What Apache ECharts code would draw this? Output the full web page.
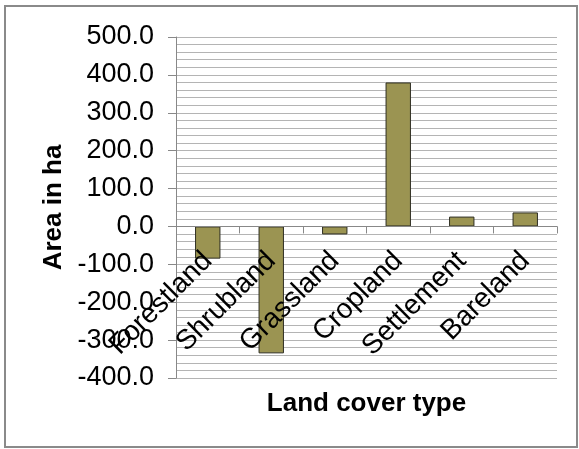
<!DOCTYPE html>
<html>
<head>
<meta charset="utf-8">
<script src="https://cdn.jsdelivr.net/npm/echarts@6/dist/echarts.min.js"></script>
<style>
  html, body { margin: 0; padding: 0; background: #fff; }
  #chart { width: 579px; height: 449px; }
</style>
</head>
<body>
<div id="chart"></div>
<script>
// land cover change, area in ha
const categories = ["Forestland", "Shrubland", "Grassland", "Cropland", "Settlement", "Bareland"];
const areaChange = [-85, -335, -21, 380, 26, 37];

const yMin = -400;
const yMax = 500;
const yStep = 100;

const myChart = echarts.init(document.getElementById("chart"));

const font = "'Liberation Sans', Arial, sans-serif";

// grid box in px
const gridTop = 37;
const gridBottom = 71;
const plotHeight = 449 - gridTop - gridBottom;
// category axis sits on the zero line (shift it up from the bottom edge)
const zeroShift = -plotHeight * (0 - yMin) / (yMax - yMin);

let option = {
  animation: false,
  backgroundColor: "#fff",
  graphic: [
    {
      type: "rect",
      shape: { x: 5, y: 6, width: 572, height: 441 },
      style: { fill: "none", stroke: "#8a8a8a", lineWidth: 2 },
      silent: true,
    },
  ],
  grid: {
    left: 176,
    right: 22,
    top: gridTop,
    bottom: gridBottom,
    outerBoundsMode: "none",
  },
  xAxis: {
    type: "category",
    data: categories,
    offset: zeroShift,
    z: 5,
    name: "Land cover type",
    nameLocation: "middle",
    nameGap: 164,
    nameTextStyle: {
      fontFamily: font,
      fontSize: 26,
      fontWeight: "bold",
      color: "#000",
    },
    axisLine: { onZero: false, lineStyle: { color: "#888", width: 1 } },
    axisTick: { show: true, inside: false, length: 7, lineStyle: { color: "#888" } },
    axisLabel: {
      rotate: 45,
      interval: 0,
      margin: 30,
      fontFamily: font,
      fontSize: 28,
      color: "#000",
    },
    splitLine: { show: false },
  },
  yAxis: {
    type: "value",
    min: yMin,
    max: yMax,
    interval: yStep,
    name: "Area in ha",
    nameLocation: "middle",
    nameGap: 100,
    nameTextStyle: {
      fontFamily: font,
      fontSize: 26,
      fontWeight: "bold",
      color: "#000",
    },
    axisLine: { show: true, lineStyle: { color: "#888", width: 1 } },
    axisTick: { show: true, length: 8, lineStyle: { color: "#888" } },
    axisLabel: {
      margin: 22,
      fontFamily: font,
      fontSize: 27,
      color: "#000",
      formatter: function (v) {
        return v.toFixed(1);
      },
    },
    splitLine: { show: true, lineStyle: { color: "#b4b4b4", width: 1 } },
    minorTick: { show: false, splitNumber: 5 },
    minorSplitLine: { show: true, lineStyle: { color: "#b4b4b4", width: 1 } },
  },
  series: [
    {
      type: "bar",
      data: areaChange,
      barWidth: "40%",
      itemStyle: {
        color: "#9b9452",
        borderColor: "#2e2e22",
        borderWidth: 1,
      },
    },
  ],
};

myChart.setOption(option);
</script>
</body>
</html>
